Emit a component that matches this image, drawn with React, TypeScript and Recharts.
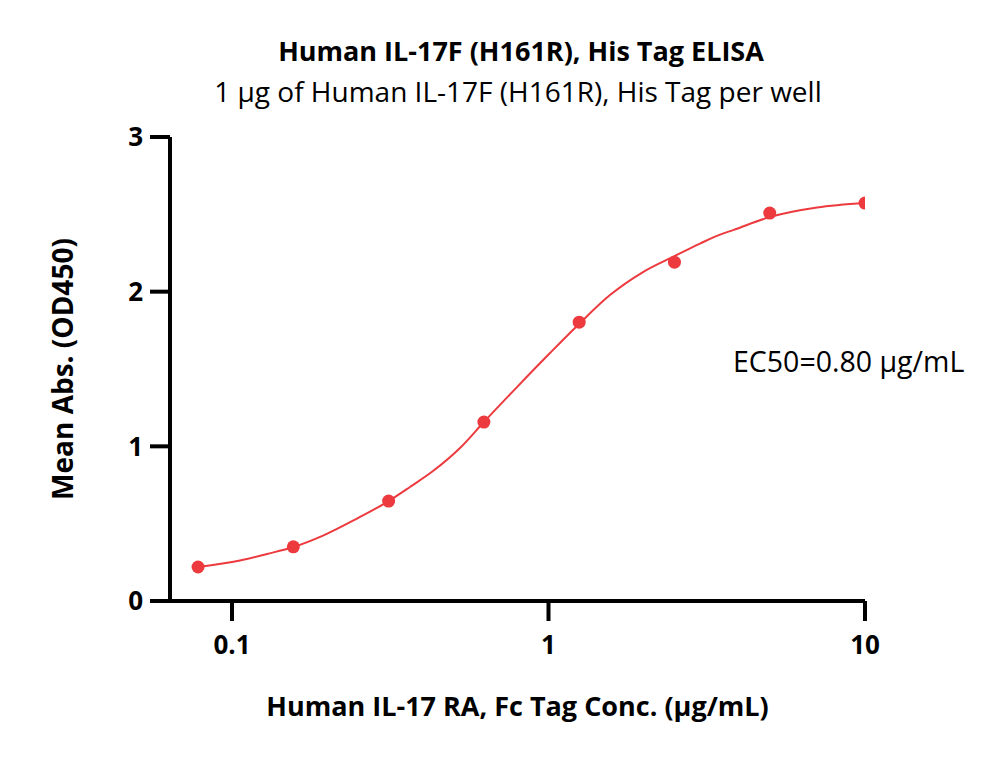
import React from 'react';
import { ComposedChart, Line, Scatter, XAxis, YAxis } from 'recharts';

// Tick labels
const xTicks = [0.1, 1, 10];
const yTicks = [0, 1, 2, 3];

// Measured points
const concentrations = [0.078125, 0.15625, 0.3125, 0.625, 1.25, 2.5, 5, 10];
const meanAbs = [0.22, 0.35, 0.646, 1.157, 1.803, 2.191, 2.508, 2.573];

// Fitted curve
const fitX = [0.078125, 0.106, 0.129, 0.15625, 0.1939, 0.2482, 0.3125, 0.365, 0.4316, 0.5253, 0.625, 0.7952, 1.011, 1.2305, 1.564, 1.989, 2.5, 3.011, 3.483, 3.828, 5.0, 7.053, 10];
const fitY = [0.22, 0.262, 0.304, 0.349, 0.423, 0.533, 0.646, 0.737, 0.84, 0.989, 1.157, 1.383, 1.603, 1.778, 1.978, 2.127, 2.23, 2.311, 2.369, 2.398, 2.482, 2.544, 2.573];

const titleText = 'Human IL-17F (H161R), His Tag ELISA';
const subtitleText = '1 \u00b5g of Human IL-17F (H161R), His Tag per well';
const xLabelText = 'Human IL-17 RA, Fc Tag Conc. (\u00b5g/mL)';
const yLabelText = 'Mean Abs. (OD450)';
const ec50Text = 'EC50=0.80 \u00b5g/mL';

const pointData = concentrations.map((x, i) => ({ x, y: meanAbs[i] }));
const fitData = fitX.map((x, i) => ({ x, y: fitY[i] }));

const FONT = '"Open Sans", Lato, sans-serif';
const RED = '#EC3A3E';

const Dot = (props: any) => {
  const { cx, cy } = props;
  if (cx == null || cy == null) return null;
  return <circle cx={cx} cy={cy} r={6.5} fill={RED} />;
};

export default function App() {
  return (
    <div style={{ position: 'absolute', left: 0, top: 0, width: 1000, height: 758, background: '#fff', fontFamily: FONT }}>
      <ComposedChart
        width={1000}
        height={758}
        margin={{ top: 137, right: 135, bottom: 97, left: 0 }}
      >
        <XAxis
          type="number"
          dataKey="x"
          scale="log"
          domain={[0.0637, 10]}
          ticks={xTicks}
          allowDataOverflow
          height={60}
          tickSize={20}
          tickMargin={15}
          tickFormatter={(v: number) => String(v)}
          axisLine={{ stroke: '#000', strokeWidth: 4 }}
          tickLine={{ stroke: '#000', strokeWidth: 4 }}
          tick={{ fill: '#000', fontSize: 26, fontWeight: 700, fontFamily: FONT }}
          label={{
            content: (p: any) => {
              const vb = p.viewBox || { x: 170, width: 695 };
              return (
                <text x={vb.x + vb.width / 2} y={716} textAnchor="middle" fontSize={27} fontWeight={700} fontFamily={FONT} fill="#000">
                  {xLabelText}
                </text>
              );
            },
          }}
        />
        <YAxis
          type="number"
          dataKey="y"
          domain={[0, 3]}
          ticks={yTicks}
          width={170}
          tickSize={20}
          tickMargin={7}
          axisLine={{ stroke: '#000', strokeWidth: 4 }}
          tickLine={{ stroke: '#000', strokeWidth: 4 }}
          tick={{ fill: '#000', fontSize: 26, fontWeight: 700, fontFamily: FONT }}
          label={{
            content: (p: any) => {
              const vb = p.viewBox || { y: 137, height: 464 };
              const cy = vb.y + vb.height / 2;
              return (
                <text x={62} y={cy} transform={`rotate(-90, 62, ${cy})`} textAnchor="middle" dominantBaseline="central" fontSize={28} fontWeight={700} fontFamily={FONT} fill="#000">
                  {yLabelText}
                </text>
              );
            },
          }}
        />
        <Line
          data={fitData}
          dataKey="y"
          type="monotone"
          stroke={RED}
          strokeWidth={2}
          dot={false}
          activeDot={false}
          isAnimationActive={false}
        />
        <Scatter
          data={pointData}
          dataKey="y"
          fill={RED}
          shape={Dot}
          isAnimationActive={false}
        />
      </ComposedChart>
      <svg width={1000} height={758} style={{ position: 'absolute', left: 0, top: 0, pointerEvents: 'none' }}>
        <text x={521} y={61} textAnchor="middle" fontSize={27} fontWeight={700} fontFamily={FONT} fill="#000">{titleText}</text>
        <text x={518} y={102} textAnchor="middle" fontSize={28} fontFamily={FONT} fill="#000">{subtitleText}</text>
        <text x={733} y={372} textAnchor="start" fontSize={28.5} fontFamily={FONT} fill="#000">{ec50Text}</text>
      </svg>
    </div>
  );
}
